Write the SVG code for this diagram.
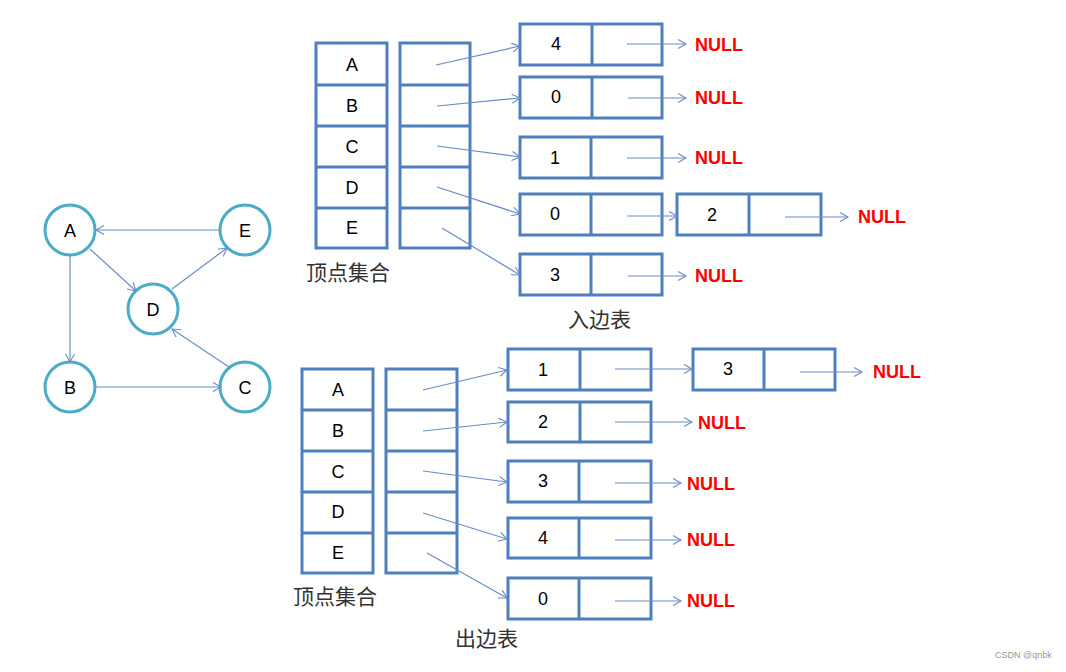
<svg xmlns="http://www.w3.org/2000/svg" width="1066" height="672" viewBox="0 0 1066 672">
<defs>
<marker id="ah" markerUnits="userSpaceOnUse" markerWidth="12" markerHeight="12" refX="9" refY="5" orient="auto">
<path d="M1,0.5 L9,5 L1,9.5" fill="none" stroke="#6a8cc7" stroke-width="1.1"/>
</marker>
<style>
.c{fill:#fff;stroke:#4bacc6;stroke-width:3}
.b{fill:#fff;stroke:#4f7fbd;stroke-width:3}
.e{stroke:#6a8cc7;stroke-width:1.2;fill:none;marker-end:url(#ah)}
.t{font-family:"Liberation Sans",Arial,sans-serif;font-size:18px;fill:#000;text-anchor:middle;dominant-baseline:central}
.n{font-family:"Liberation Sans",Arial,sans-serif;font-size:18px;font-weight:bold;fill:#ff0000;dominant-baseline:central}
.z{font-family:"Noto Sans CJK SC",sans-serif;font-size:21px;fill:#333;dominant-baseline:central}
</style>
</defs>
<rect width="1066" height="672" fill="#fff"/>

<g id="node-A"><circle class="c" cx="70" cy="230" r="25"/><text class="t" x="70" y="231">A</text></g>
<g id="node-E"><circle class="c" cx="245" cy="230" r="25"/><text class="t" x="245" y="231">E</text></g>
<g id="node-D"><circle class="c" cx="153" cy="309" r="25"/><text class="t" x="153" y="310">D</text></g>
<g id="node-B"><circle class="c" cx="70" cy="387" r="25"/><text class="t" x="70" y="388">B</text></g>
<g id="node-C"><circle class="c" cx="245" cy="387" r="25"/><text class="t" x="245" y="388">C</text></g>

<!-- top vertex set -->
<g id="in-vertices">
<rect class="b" x="316" y="43" width="71" height="205"/>
<line class="b" x1="316" y1="85" x2="387" y2="85"/>
<line class="b" x1="316" y1="126" x2="387" y2="126"/>
<line class="b" x1="316" y1="167" x2="387" y2="167"/>
<line class="b" x1="316" y1="208" x2="387" y2="208"/>
<text class="t" x="352" y="65">A</text>
<text class="t" x="352" y="106">B</text>
<text class="t" x="352" y="147">C</text>
<text class="t" x="352" y="188">D</text>
<text class="t" x="352" y="228">E</text>
<rect class="b" x="400" y="43" width="70" height="205"/>
<line class="b" x1="400" y1="85" x2="470" y2="85"/>
<line class="b" x1="400" y1="126" x2="470" y2="126"/>
<line class="b" x1="400" y1="167" x2="470" y2="167"/>
<line class="b" x1="400" y1="208" x2="470" y2="208"/>
<text class="z" x="306" y="271">顶点集合</text>
</g>

<g id="in-list">
<g id="in-n4"><rect class="b" x="520" y="24" width="142" height="41"/><line class="b" x1="592" y1="24" x2="592" y2="65"/><text class="t" x="556" y="44">4</text></g>
<g id="in-n0a"><rect class="b" x="520" y="77" width="142" height="41"/><line class="b" x1="592" y1="77" x2="592" y2="118"/><text class="t" x="556" y="97">0</text></g>
<g id="in-n1"><rect class="b" x="520" y="137" width="142" height="41"/><line class="b" x1="591" y1="137" x2="591" y2="178"/><text class="t" x="555" y="158">1</text></g>
<g id="in-n0b"><rect class="b" x="520" y="194" width="142" height="41"/><line class="b" x1="591" y1="194" x2="591" y2="235"/><text class="t" x="555" y="214">0</text></g>
<g id="in-n3"><rect class="b" x="520" y="254" width="142" height="41"/><line class="b" x1="591" y1="254" x2="591" y2="295"/><text class="t" x="555" y="275">3</text></g>
<g id="in-n2"><rect class="b" x="677" y="194" width="144" height="41"/><line class="b" x1="749" y1="194" x2="749" y2="235"/><text class="t" x="712" y="215">2</text></g>
<text class="n" x="695" y="45">NULL</text>
<text class="n" x="695" y="98">NULL</text>
<text class="n" x="695" y="158">NULL</text>
<text class="n" x="858" y="217">NULL</text>
<text class="n" x="695" y="276">NULL</text>
<text class="z" x="568" y="318">入边表</text>
</g>

<!-- bottom vertex set -->
<g id="out-vertices">
<rect class="b" x="302" y="369" width="71" height="204"/>
<line class="b" x1="302" y1="410" x2="373" y2="410"/>
<line class="b" x1="302" y1="451" x2="373" y2="451"/>
<line class="b" x1="302" y1="492" x2="373" y2="492"/>
<line class="b" x1="302" y1="533" x2="373" y2="533"/>
<text class="t" x="338" y="390">A</text>
<text class="t" x="338" y="431">B</text>
<text class="t" x="338" y="472">C</text>
<text class="t" x="338" y="512">D</text>
<text class="t" x="338" y="553">E</text>
<rect class="b" x="386" y="369" width="71" height="204"/>
<line class="b" x1="386" y1="410" x2="457" y2="410"/>
<line class="b" x1="386" y1="451" x2="457" y2="451"/>
<line class="b" x1="386" y1="492" x2="457" y2="492"/>
<line class="b" x1="386" y1="533" x2="457" y2="533"/>
<text class="z" x="293" y="595">顶点集合</text>
</g>

<g id="out-list">
<g id="out-n1"><rect class="b" x="508" y="349" width="143" height="41"/><line class="b" x1="580" y1="349" x2="580" y2="390"/><text class="t" x="543" y="370">1</text></g>
<g id="out-n2"><rect class="b" x="508" y="402" width="143" height="40"/><line class="b" x1="580" y1="402" x2="580" y2="442"/><text class="t" x="543" y="422">2</text></g>
<g id="out-n3"><rect class="b" x="508" y="461" width="143" height="41"/><line class="b" x1="579" y1="461" x2="579" y2="502"/><text class="t" x="543" y="481">3</text></g>
<g id="out-n4"><rect class="b" x="508" y="518" width="143" height="40"/><line class="b" x1="579" y1="518" x2="579" y2="558"/><text class="t" x="543" y="538">4</text></g>
<g id="out-n0"><rect class="b" x="508" y="578" width="143" height="41"/><line class="b" x1="579" y1="578" x2="579" y2="619"/><text class="t" x="543" y="599">0</text></g>
<g id="out-n3b"><rect class="b" x="693" y="349" width="142" height="41"/><line class="b" x1="764" y1="349" x2="764" y2="390"/><text class="t" x="728" y="369">3</text></g>
<text class="n" x="698" y="423">NULL</text>
<text class="n" x="687" y="484">NULL</text>
<text class="n" x="687" y="540">NULL</text>
<text class="n" x="687" y="601">NULL</text>
<text class="n" x="873" y="372">NULL</text>
<text class="z" x="455" y="637">出边表</text>
</g>

<g id="connectors">
<!-- graph edges -->
<line class="e" x1="220" y1="230" x2="96" y2="230"/>
<line class="e" x1="90" y1="249" x2="136" y2="291"/>
<line class="e" x1="172" y1="289" x2="227" y2="248"/>
<line class="e" x1="70" y1="256" x2="70" y2="362"/>
<line class="e" x1="96" y1="387" x2="221" y2="387"/>
<line class="e" x1="229" y1="367" x2="172" y2="329"/>
<!-- top pointers -->
<line class="e" x1="436" y1="65" x2="520" y2="46"/>
<line class="e" x1="437" y1="106" x2="520" y2="98"/>
<line class="e" x1="437" y1="146" x2="520" y2="157"/>
<line class="e" x1="437" y1="187" x2="520" y2="214"/>
<line class="e" x1="442" y1="228" x2="520" y2="275"/>
<line class="e" x1="627" y1="44" x2="686" y2="44"/>
<line class="e" x1="628" y1="98" x2="686" y2="98"/>
<line class="e" x1="627" y1="158" x2="686" y2="158"/>
<line class="e" x1="627" y1="216" x2="677" y2="216"/>
<line class="e" x1="628" y1="276" x2="686" y2="276"/>
<line class="e" x1="785" y1="217" x2="848" y2="217"/>
<!-- bottom pointers -->
<line class="e" x1="423" y1="390" x2="507" y2="370"/>
<line class="e" x1="423" y1="431" x2="507" y2="422"/>
<line class="e" x1="423" y1="471" x2="507" y2="482"/>
<line class="e" x1="423" y1="513" x2="507" y2="539"/>
<line class="e" x1="427" y1="553" x2="507" y2="598"/>
<line class="e" x1="615" y1="369" x2="692" y2="369"/>
<line class="e" x1="615" y1="422" x2="692" y2="422"/>
<line class="e" x1="615" y1="483" x2="681" y2="483"/>
<line class="e" x1="615" y1="540" x2="681" y2="540"/>
<line class="e" x1="615" y1="601" x2="681" y2="601"/>
<line class="e" x1="800" y1="372" x2="862" y2="372"/>
</g>

<text x="995" y="658" font-family="Liberation Sans,Arial,sans-serif" font-size="9" fill="#999">CSDN @qnbk</text>
</svg>
